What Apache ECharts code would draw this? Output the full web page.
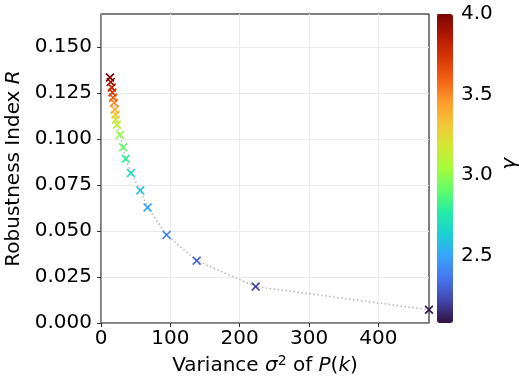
<!DOCTYPE html>
<html><head><meta charset="utf-8">
<script src="https://cdn.jsdelivr.net/npm/echarts@6/dist/echarts.min.js"></script>
<style>html,body{margin:0;padding:0;background:#fff}#c{width:519px;height:383px}</style>
</head><body><div id="c"></div>
<script>
// Data
const variance = [473, 223, 138, 94.6, 67.2, 56.7, 43.2, 35.6, 32.0, 27.4, 23.0, 21.5, 20.8, 20.0, 19.0, 17.5, 16.5, 15.5, 14.0, 13.0];
const robustness = [0.0072, 0.0198, 0.0339, 0.0479, 0.0628, 0.0721, 0.0815, 0.0893, 0.0955, 0.1024, 0.1078, 0.1106, 0.1133, 0.1160, 0.1198, 0.1225, 0.1253, 0.1280, 0.1310, 0.1335];
const gammaVals = [2.1, 2.2, 2.3, 2.4, 2.5, 2.6, 2.7, 2.8, 2.9, 3.0, 3.1, 3.2, 3.3, 3.4, 3.5, 3.6, 3.7, 3.8, 3.9, 4.0];
const xTicks = [0, 100, 200, 300, 400];
const yTicks = [0, 0.025, 0.05, 0.075, 0.1, 0.125, 0.15];
const cbTicks = [2.5, 3.0, 3.5, 4.0];
const gammaMin = 2.08, gammaMax = 4.0;
const turbo = ['#30123b','#4145ab','#4675ed','#39a2fc','#1bcfd4','#24eca6','#61fc6c','#a4fc3b','#d1e834','#f3c63a','#fe9b2d','#f36315','#d93806','#b11901','#7a0402'];

const pts = variance.map((v, i) => [v, robustness[i], gammaVals[i]]);
const linePts = pts.slice().sort((a, b) => a[0] - b[0]).map(p => [p[0], p[1]]);

const F = 'DejaVu Sans';
const FS = 20;
const X = 'path://M0,13L13,0L50,37L87,0L100,13L63,50L100,87L87,100L50,63L13,100L0,87L37,50Z';

const chart = echarts.init(document.getElementById('c'), null, {renderer: 'canvas'});
chart.setOption({
  animation: false,
  backgroundColor: '#fff',
  textStyle: {fontFamily: F},
  grid: [
    {left: 101, right: 90, top: 14, bottom: 60, show: true, borderColor: '#000', borderWidth: 1,
     containLabel: false, outerBoundsMode: 'none'},
    {left: 437, width: 16, top: 14, height: 309, show: false, containLabel: false, outerBoundsMode: 'none'}
  ],
  xAxis: [
    {type: 'value', gridIndex: 0, min: 0, max: 473, interval: 100,
     axisLine: {show: true, onZero: false, lineStyle: {color: '#777', width: 1.5}},
     axisTick: {show: true, length: 4, lineStyle: {color: '#333'}, customValues: xTicks},
     axisLabel: {color: '#000', fontSize: FS, margin: 6, fontFamily: F, customValues: xTicks},
     splitLine: {show: true, lineStyle: {color: '#ebebeb', width: 1}},
     name: '{n|Variance }{i|σ}{s|2}{n| of }{i|P}{n|(}{i|k}{n|)}',
     nameLocation: 'middle', nameGap: 30,
     nameTextStyle: {color: '#000', fontSize: FS, fontFamily: F,
       rich: {n: {fontSize: FS, fontFamily: F, color: '#000'},
              i: {fontSize: FS, fontFamily: F, fontStyle: 'italic', color: '#000'},
              s: {fontSize: 14, fontFamily: F, color: '#000', padding: [0, 0, 10, 0]}}}
    },
    {type: 'value', gridIndex: 1, show: false, min: 0, max: 1}
  ],
  yAxis: [
    {type: 'value', gridIndex: 0, min: 0, max: 0.168, interval: 0.025,
     axisLine: {show: true, onZero: false, lineStyle: {color: '#777', width: 1.5}},
     axisTick: {show: true, length: 4, lineStyle: {color: '#333'}, customValues: yTicks},
     axisLabel: {color: '#000', fontSize: FS, margin: 9, fontFamily: F,
                 customValues: yTicks, formatter: v => v.toFixed(3)},
     splitLine: {show: true, lineStyle: {color: '#ebebeb', width: 1}},
     name: 'Robustness Index {i|R}', nameLocation: 'middle', nameGap: 74,
     nameTextStyle: {color: '#000', fontSize: FS, fontFamily: F,
       rich: {i: {fontSize: FS, fontFamily: F, fontStyle: 'italic', color: '#000'}}}
    },
    {type: 'value', gridIndex: 1, position: 'right', min: gammaMin, max: gammaMax,
     axisLine: {show: false},
     axisTick: {show: true, length: 4, lineStyle: {color: '#333'}, customValues: cbTicks},
     axisLabel: {color: '#000', fontSize: FS, margin: 8, fontFamily: F,
                 customValues: cbTicks, formatter: v => v.toFixed(1)},
     splitLine: {show: false}}
  ],
  visualMap: {
    type: 'continuous', min: gammaMin, max: gammaMax, dimension: 2, seriesIndex: 1,
    left: 437, top: 14, itemWidth: 16, itemHeight: 309, padding: 0,
    calculable: false, text: null, showLabel: false, realtime: false,
    inRange: {color: turbo, opacity: 1}
  },
  graphic: [
    {type: 'text', left: 500, top: 158, rotation: Math.PI / 2,
     style: {text: 'γ', font: 'italic 20px "DejaVu Sans"', fill: '#000'}}
  ],
  series: [
    {type: 'line', xAxisIndex: 0, yAxisIndex: 0, data: linePts, showSymbol: false, symbol: 'none',
     lineStyle: {color: '#b5b5b5', width: 1.5, type: [1.5, 2.5]}, z: 2, clip: true},
    {type: 'scatter', xAxisIndex: 0, yAxisIndex: 0, data: pts, symbol: X, symbolSize: 9, z: 3, clip: true,
     itemStyle: {opacity: 1}}
  ]
});
</script></body></html>
